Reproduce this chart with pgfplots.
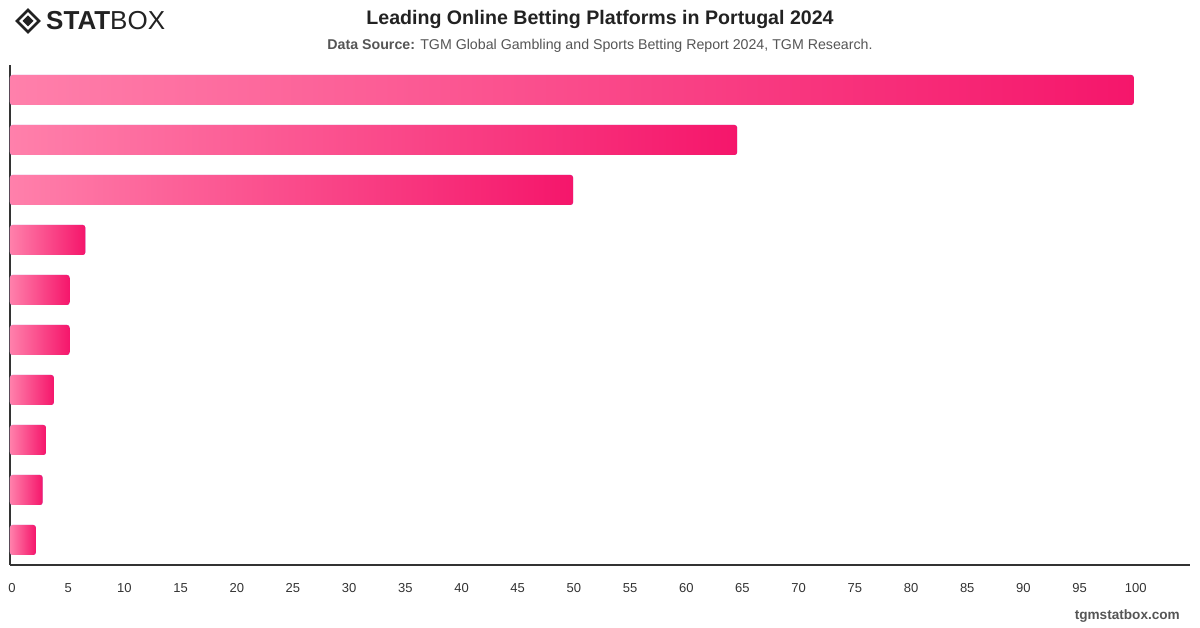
\documentclass[border=0pt]{standalone}
\usepackage{fontspec}
\setmainfont{Liberation Sans}
\usepackage{pgfplots}
\pgfplotsset{compat=1.18}
\definecolor{barlight}{HTML}{FF80AB}
\definecolor{bardark}{HTML}{F5166B}
\definecolor{axisgray}{HTML}{333333}
\definecolor{subgray}{HTML}{555555}
\definecolor{titlegray}{HTML}{222222}

\begin{document}
\begin{tikzpicture}[x=1pt,y=1pt]
\path[use as bounding box] (0,0) rectangle (1200,628);

% logo
\draw[titlegray, line width=2.8pt, line join=miter] (28,618)--(39,607)--(28,596)--(17,607)--cycle;
\fill[titlegray] (28,612.5)--(33.5,607)--(28,601.5)--(22.5,607)--cycle;
\node[anchor=west, inner sep=0, text=titlegray, font=\fontsize{26}{30}\selectfont] at (46,607) {{\bfseries STAT}BOX};

% titles
\node[text=titlegray, font=\bfseries\fontsize{19.6}{24}\selectfont] at (600,609) {Leading Online Betting Platforms in Portugal 2024};
\node[text=subgray, font=\fontsize{14.2}{17}\selectfont] at (600,582) {\textbf{Data Source:} TGM Global Gambling and Sports Betting Report 2024, TGM Research.};
\node[anchor=east, inner sep=0, text=subgray, font=\bfseries\fontsize{13.6}{16}\selectfont] at (1180,12) {tgmstatbox.com};

\begin{axis}[
  at={(10pt,63pt)}, anchor=south west,
  scale only axis, width=1180pt, height=500pt,
  xbar, bar width=30pt, bar shift=0pt,
  xmin=0, xmax=105,
  ymin=-0.5, ymax=9.5,
  axis lines=left,
  axis line style={draw=axisgray, line width=1.2pt, -},
  ytick=\empty,
  xtick={0,5,...,100},
  major tick length=0pt,
  /pgf/number format/assume math mode=true,
  xticklabel style={font=\fontsize{13}{16}\selectfont, text=axisgray, yshift=-15pt, xshift=2pt},
  clip=false,
  every axis plot/.append style={draw=none, left color=barlight, right color=bardark, rounded corners=2.5pt, forget plot},
]
% one plot per bar so that each bar carries its own gradient
\addplot coordinates {(100,9)};
\addplot coordinates {(64.7,8)};
\addplot coordinates {(50.1,7)};
\addplot coordinates {(6.7,6)};
\addplot coordinates {(5.3,5)};
\addplot coordinates {(5.3,4)};
\addplot coordinates {(3.9,3)};
\addplot coordinates {(3.2,2)};
\addplot coordinates {(2.9,1)};
\addplot coordinates {(2.3,0)};
\end{axis}
\end{tikzpicture}
\end{document}
